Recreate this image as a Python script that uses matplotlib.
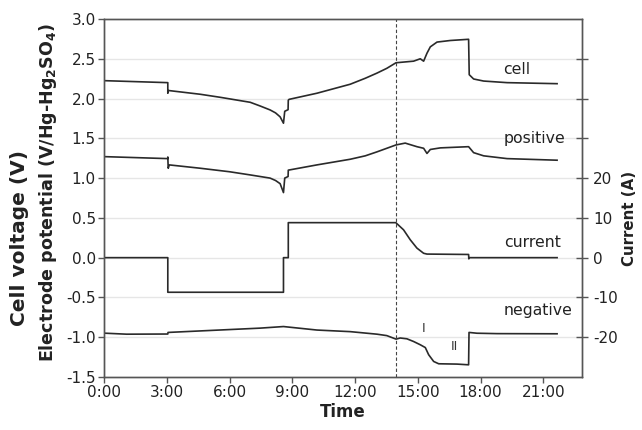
import numpy as np
import matplotlib
matplotlib.use('Agg')
import matplotlib.pyplot as plt

plt.rcParams['font.family'] = ['DejaVu Sans']
plt.rcParams['mathtext.fontset'] = 'dejavusans'

# time in hours
cell_t = [0, 3.05, 3.05, 3.07, 3.12, 4.6, 5.55, 6.99, 7.46, 7.94, 8.2, 8.42,
          8.58, 8.64, 8.80, 8.81, 8.85, 10.18, 11.77, 12.49, 13.05, 13.52,
          13.96, 14.8, 15.12, 15.28, 15.44, 15.6, 15.92, 16.56, 17.43, 17.46,
          17.67, 18.15, 19.27, 21.66]
cell_v = [2.225, 2.20, 2.067, 2.10, 2.10, 2.054, 2.016, 1.953, 1.907, 1.857,
          1.82, 1.77, 1.69, 1.84, 1.86, 1.98, 1.99, 2.067, 2.18, 2.255, 2.32,
          2.38, 2.45, 2.47, 2.50, 2.47, 2.57, 2.65, 2.71, 2.73, 2.745, 2.30,
          2.246, 2.22, 2.20, 2.187]

pos_t = [0, 3.05, 3.05, 3.07, 3.12, 4.6, 6.0, 6.99, 7.94, 8.2, 8.42, 8.58,
         8.64, 8.80, 8.81, 10.18, 11.77, 12.49, 13.05, 13.96, 14.4, 14.96,
         15.28, 15.44, 15.6, 16.08, 17.43, 17.67, 18.15, 19.27, 21.66]
pos_v = [1.27, 1.245, 1.265, 1.124, 1.166, 1.124, 1.08, 1.04, 1.0, 0.97, 0.93,
         0.818, 1.0, 1.02, 1.10, 1.166, 1.237, 1.28, 1.33, 1.417, 1.44, 1.395,
         1.375, 1.31, 1.36, 1.38, 1.395, 1.32, 1.28, 1.245, 1.225]

cur_t = [0, 3.05, 3.05, 8.58, 8.58, 8.81, 8.81, 13.95, 14.32, 14.64, 14.96,
         15.28, 15.44, 17.43, 17.44, 17.47, 21.66]
cur_a = [0, 0, -8.7, -8.7, 0, 0, 8.8, 8.8, 7.0, 4.5, 2.4, 1.1, 0.9, 0.8,
         -0.3, 0, 0]

neg_t = [0, 1.08, 3.05, 3.06, 7.46, 8.58, 10.18, 11.77, 13.05, 13.52, 13.96,
         14.16, 14.48, 14.8, 15.12, 15.36, 15.52, 15.76, 16.0, 16.87, 17.43,
         17.45, 17.83, 18.79, 21.66]
neg_v = [-0.949, -0.962, -0.96, -0.94, -0.886, -0.866, -0.91, -0.93, -0.962,
         -0.98, -1.024, -1.01, -1.02, -1.054, -1.095, -1.13, -1.22, -1.305,
         -1.334, -1.338, -1.347, -0.94, -0.95, -0.955, -0.957]

switch_t = 13.95
xticks = [0, 3, 6, 9, 12, 15, 18, 21]
xlabels = ['0:00', '3:00', '6:00', '9:00', '12:00', '15:00', '18:00', '21:00']

line_col = '#2a2a2a'
spine_col = '#555555'
text_col = '#222222'

fig, ax = plt.subplots(figsize=(6.42, 4.30), dpi=100)
fig.subplots_adjust(left=0.162, right=0.9065, bottom=0.1233, top=0.9558)
ax2 = ax.twinx()

for y in np.arange(-1.0, 2.6, 0.5):
    ax.axhline(y, color='#e6e6e6', lw=1.0, zorder=0)

ax.plot(cell_t, cell_v, color=line_col, lw=1.2)
ax.plot(pos_t, pos_v, color=line_col, lw=1.2)
ax.plot(neg_t, neg_v, color=line_col, lw=1.2)
ax2.plot(cur_t, cur_a, color=line_col, lw=1.2)
ax.axvline(switch_t, color='#444444', lw=0.8, ls=(0, (3, 2)))

ax.set_xlim(0, 22.85)
ax.set_ylim(-1.5, 3.0)
ax2.set_ylim(-30, 60)
ax.set_xticks(xticks)
ax.set_xticklabels(xlabels)
ax.set_yticks(np.arange(-1.5, 3.01, 0.5))
ax.set_yticklabels(['%.1f' % v for v in np.arange(-1.5, 3.01, 0.5)])
ax2.set_yticks([-20, -10, 0, 10, 20, 30, 40, 50])
ax2.set_yticklabels(['-20', '-10', '0', '10', '20', '', '', ''])

ax.tick_params(axis='both', direction='out', length=4, width=1,
               color=spine_col, labelsize=11, labelcolor=text_col, pad=2)
ax2.tick_params(axis='y', direction='inout', length=8, width=1,
                color=spine_col, labelsize=11, labelcolor=text_col, pad=4)
for a in (ax, ax2):
    for s in a.spines.values():
        s.set_color(spine_col)
        s.set_linewidth(1.0)

ax.set_xlabel('Time', fontsize=12, fontweight='bold', labelpad=2,
              color=text_col)
fig.text(20 / 642, 1 - 238 / 430, 'Cell voltage (V)', rotation=90,
         ha='center', va='center', fontsize=14.5, fontweight='bold',
         color=text_col)
fig.text(48 / 642, 1 - 192 / 430,
         r'Electrode potential (V/Hg-Hg$_\mathbf{2}$SO$_\mathbf{4}$)',
         rotation=90, ha='center', va='center', fontsize=12.6,
         fontweight='bold', color=text_col)
fig.text(629 / 642, 1 - 218 / 430, 'Current (A)', rotation=90,
         ha='center', va='center', fontsize=10.8, fontweight='bold',
         color=text_col)

ax.text(19.09, 2.37, 'cell', fontsize=11.3, va='center', color=text_col)
ax.text(19.12, 1.50, 'positive', fontsize=11.3, va='center', color=text_col)
ax.text(19.12, 0.19, 'current', fontsize=11.3, va='center', color=text_col)
ax.text(19.12, -0.668, 'negative', fontsize=11.3, va='center', color=text_col)
ax.text(15.28, -0.886, 'I', fontsize=9, ha='center', va='center', color='#333333')
ax.text(16.76, -1.117, 'II', fontsize=9, ha='center', va='center', color='#333333')

fig.savefig('out.png', dpi=100)
